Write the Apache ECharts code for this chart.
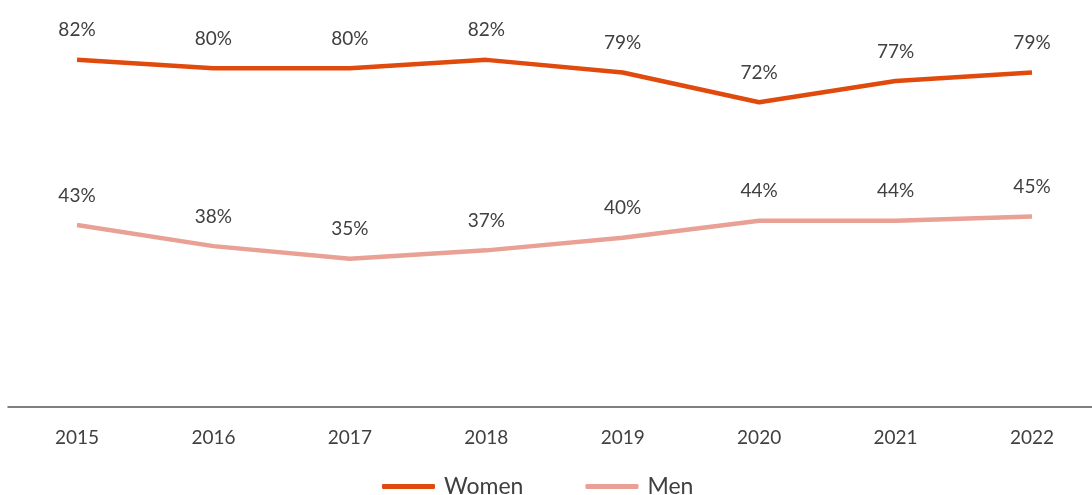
<!DOCTYPE html>
<html style="height: 100%">
<head>
  <meta charset="utf-8">
  <script src="https://cdn.jsdelivr.net/npm/echarts@6/dist/echarts.min.js"></script>
</head>
<body style="height: 100%; margin: 0">
  <div id="container" style="width: 1092px; height: 495px"></div>
  <script type="text/javascript">
const years = ['2015', '2016', '2017', '2018', '2019', '2020', '2021', '2022'];
const women = [82, 80, 80, 82, 79, 72, 77, 79];
const men = [43, 38, 35, 37, 40, 44, 44, 45];

let chart = echarts.init(document.getElementById('container'));
const font = 'Lato, "Open Sans", sans-serif';

function lineSeries(name, data, color) {
  return {
    name: name,
    type: 'line',
    data: data,
    symbol: 'circle',
    symbolSize: 0,
    showSymbol: true,
    lineStyle: { color: color, width: 4.5 },
    itemStyle: { color: color },
    label: {
      show: true,
      position: 'top',
      distance: 20,
      formatter: '{c}%',
      color: '#404040',
      fontSize: 19,
      fontFamily: font
    }
  };
}

chart.setOption({
  animation: false,
  grid: [
    { left: 77, right: 60, top: 26, bottom: 88 },
    { left: 8, right: 0, top: 26, bottom: 88 }
  ],
  legend: {
    top: 470,
    left: 377,
    itemWidth: 53,
    itemHeight: 5,
    itemGap: 62,
    icon: 'roundRect',
    textStyle: { color: '#404040', fontSize: 23, fontFamily: font, padding: [0, 0, 0, 4] },
    data: ['Women', 'Men']
  },
  xAxis: [
    {
      type: 'category',
      gridIndex: 0,
      data: years,
      boundaryGap: false,
      axisLine: { show: false },
      axisTick: { show: false },
      axisLabel: { color: '#404040', fontSize: 19, fontFamily: font, margin: 21 }
    },
    {
      // baseline spanning the full width
      type: 'value',
      gridIndex: 1,
      axisLine: { show: true, lineStyle: { color: '#555', width: 1.5 } },
      axisTick: { show: false },
      axisLabel: { show: false },
      splitLine: { show: false }
    }
  ],
  yAxis: [
    { type: 'value', gridIndex: 0, min: 0, max: 90, show: false, splitLine: { show: false } },
    { type: 'value', gridIndex: 1, min: 0, max: 90, show: false, splitLine: { show: false } }
  ],
  series: [
    lineSeries('Women', women, '#E04A0C'),
    lineSeries('Men', men, '#E9A095')
  ]
});
  </script>
</body>
</html>
